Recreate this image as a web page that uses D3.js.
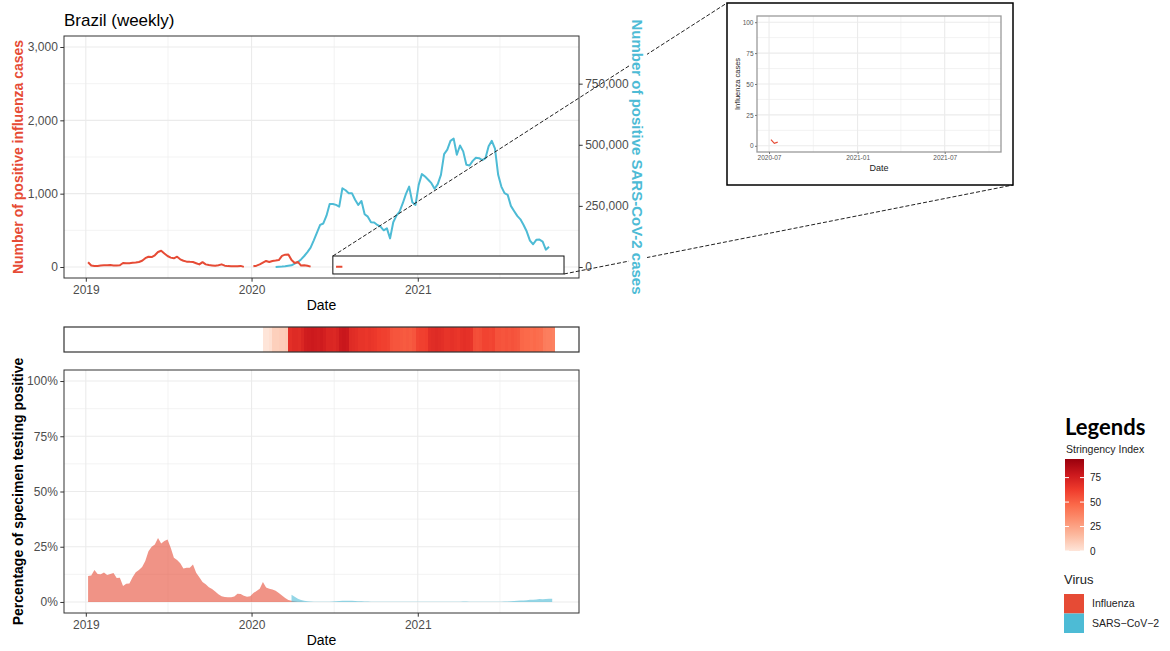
<!DOCTYPE html>
<html>
<head>
<meta charset="utf-8">
<script src="https://cdn.jsdelivr.net/npm/d3@7"></script>
<style>
  body { margin: 0; background: #fff; }
  svg text { font-family: "Liberation Sans", Arial, sans-serif; }
</style>
</head>
<body>
<svg id="chart" width="1170" height="651"></svg>
<script>
// ---- weekly surveillance data, Brazil ----
const fluStart = "2019-01-06";
const fluCases = [
  64, 20, 14, 14, 20, 23, 25, 27, 22, 20,
  23, 55, 52, 52, 57, 62, 68, 85, 120, 140,
  135, 160, 205, 222, 185, 150, 128, 118, 140, 105,
  85, 73, 70, 68, 52, 35, 66, 36, 26, 22,
  18, 25, 36, 18, 12, 9, 9, 9, 15, 2,
  null, null,
  9, 18, 35, 59, 82, 68, 82, 88, 95, 152,
  168, 172, 95, 55, 70, 20, 25, 18, 5,
  null, null, null, null, null, null, null,
  5, 2, 3
];

const sarsStart = "2020-02-23";
const sarsCases = [
  500, 1500, 2000, 3000, 5000, 7000, 14000, 20000, 31000, 45000,
  61000, 79000, 109000, 141000, 172000, 178000, 210000, 258000, 258000, 254000,
  247000, 322000, 314000, 302000, 302000, 275000, 254000, 270000, 216000, 206000,
  183000, 182000, 172000, 165000, 150000, 158000, 117000, 183000, 210000, 227000,
  261000, 299000, 329000, 265000, 254000, 336000, 380000, 370000, 357000, 343000,
  320000, 339000, 377000, 462000, 480000, 516000, 525000, 459000, 497000, 473000,
  418000, 415000, 434000, 447000, 445000, 437000, 445000, 494000, 516000, 484000,
  377000, 329000, 302000, 295000, 250000, 229000, 209000, 195000, 172000, 145000,
  108000, 93000, 111000, 112000, 104000, 71000, 83000
];

const fluPctStart = "2019-01-06";
const fluPct = [
  11.7, 12.0, 14.5, 12.6, 12.5, 13.3, 12.2, 12.7, 13.1, 10.9,
  11.0, 7.2, 8.2, 8.3, 11.2, 13.5, 14.5, 15.8, 18.5, 23.0,
  25.0, 26.0, 29.0, 26.5, 27.6, 28.3, 24.5, 20.0, 19.0, 17.5,
  15.2, 15.5, 15.5, 17.0, 13.2, 11.2, 9.0, 8.0, 6.7, 5.9,
  4.7, 3.5, 2.6, 2.2, 2.1, 2.1, 2.5, 3.7, 3.6, 2.8,
  2.3, 2.6, 4.0, 5.0, 6.0, 9.0, 6.5, 6.0, 5.6, 5.1,
  4.0, 2.9, 1.8, 0.9, 0.6, 0.3, 0.1, 0.05, 0
];

const sarsPctStart = "2020-03-29";
const sarsPct = [
  3.3, 2.4, 1.5, 0.9, 0.5, 0.3, 0.15, 0.1, 0.05, 0.05,
  0.05, 0.1, 0.1, 0.2, 0.3, 0.4, 0.5, 0.6, 0.6, 0.5,
  0.4, 0.35, 0.3, 0.2, 0.15, 0.1, 0.05, 0.05, 0.05, 0.05,
  0.05, 0.05, 0.05, 0.05, 0.05, 0.05, 0.05, 0.05, 0.05, 0.05,
  0.05, 0.05, 0.05, 0.05, 0.05, 0.05, 0.05, 0.05, 0.05, 0.05,
  0.05, 0.05, 0.05, 0.1, 0.15, 0.15, 0.1, 0.05, 0.05, 0.05,
  0.05, 0.05, 0.05, 0.05, 0.05, 0.05, 0.1, 0.15, 0.2, 0.3,
  0.4, 0.5, 0.7, 0.7, 0.8, 1.0, 1.0, 1.1, 1.3, 1.2,
  1.3, 1.4, 1.5
];

const stringencyStart = "2020-01-26";
const stringency = [
  0, 0, 2, 8, 8, 9, 9, 10,
  68, 70, 70, 69, 72,
  76, 77, 78, 77, 76, 77, 75,
  72, 72, 71, 73,
  78, 79, 78,
  70, 69, 68,
  66, 66, 65, 66, 65, 64,
  62, 61, 61, 60,
  55, 54, 54, 53,
  52, 53, 52, 54,
  60, 61, 61, 62,
  68, 69, 70, 69, 68,
  66, 66, 67, 66, 65,
  67, 68, 67, 66,
  57, 56, 57,
  60, 60, 59, 60,
  55, 55, 54, 55, 54, 55, 54, 53,
  48, 47, 47, 46, 47, 46, 45,
  40, 39, 39, 38
];
const stringencyLimits = [0, 94];
const stringencyTicks = [0, 25, 50, 75];

// ---- axis breaks and labels ----
const dateRange = ["2018-11-14", "2021-12-22"];
const yearTicks = ["2019-01-01", "2020-01-01", "2021-01-01"];
const yearLabels = ["2019", "2020", "2021"];
const halfYearTicks = ["2019-07-01", "2020-07-01", "2021-07-01"];
const fluTicks = [0, 1000, 2000, 3000];
const fluMinor = [500, 1500, 2500];
const fluRange = [-150, 3150];
const sarsPerFlu = 300;           // secondary axis ratio
const sarsTicks = [0, 250000, 500000, 750000];
const pctTicks = [0, 25, 50, 75, 100];
const pctMinor = [12.5, 37.5, 62.5, 87.5];
const pctRange = [-5, 105];

// zoomed window (inset)
const zoomWindowDates = ["2020-06-28", "2021-11-19"];
const zoomWindowCases = [-95, 150];
const insetDateRange = ["2020-06-06", "2021-10-26"];
const insetTicks = ["2020-07-01", "2021-01-01", "2021-07-01"];
const insetTickLabels = ["2020-07", "2021-01", "2021-07"];
const insetMinorTicks = ["2020-10-01", "2021-04-01", "2021-10-01"];
const insetYTicks = [0, 25, 50, 75, 100];
const insetYMinor = [12.5, 37.5, 62.5, 87.5];
const insetYRange = [-5, 105];

const virusNames = ["Influenza", "SARS\u2212CoV\u22122"];
const virusColors = ["#E64B35", "#4DBBD5"];
const redsPalette = ["#FEE5D9", "#FCBBA1", "#FC9272", "#FB6A4A", "#EF3B2C", "#CB181D", "#99000D"];

// ---- helpers ----
const parse = d3.timeParse("%Y-%m-%d");
const weekly = (start, values) => values.map((v, i) => ({
  date: d3.timeDay.offset(parse(start), 7 * i), value: v
}));

const fluSeries = weekly(fluStart, fluCases);
const sarsSeries = weekly(sarsStart, sarsCases);
const fluPctSeries = weekly(fluPctStart, fluPct);
const sarsPctSeries = weekly(sarsPctStart, sarsPct);
const stringencySeries = weekly(stringencyStart, stringency);

const svg = d3.select("#chart");
const GRID = "#EBEBEB", BORDER = "#333333", TICKTXT = "#4D4D4D";

// layout
const L = 64, R = 579;
const top1 = 36, bot1 = 278;
const heatTop = 327, heatBot = 352;
const top2 = 370, bot2 = 613;

const x = d3.scaleTime().domain(dateRange.map(parse)).range([L, R]);
const yFlu = d3.scaleLinear().domain(fluRange).range([bot1, top1]);
const ySars = d3.scaleLinear().domain(fluRange.map(v => v * sarsPerFlu)).range([bot1, top1]);
const yPct = d3.scaleLinear().domain(pctRange).range([bot2, top2]);

const strDomain = d3.range(redsPalette.length).map(i =>
  stringencyLimits[0] + (stringencyLimits[1] - stringencyLimits[0]) * i / (redsPalette.length - 1));
const strColor = d3.scaleLinear().domain(strDomain).range(redsPalette);

function styleAxis(g, size) {
  g.select(".domain").remove();
  g.selectAll(".tick line").attr("stroke", BORDER).attr("stroke-width", 1);
  g.selectAll(".tick text").attr("fill", TICKTXT).style("font-size", (size || 12) + "px");
}

function grid(g, xs, xMajor, xMinor, ys, yMajor, yMinor, x0, x1, y0, y1) {
  const gg = g.append("g");
  const vline = (vals, w) => gg.selectAll(null).data(vals).enter().append("line")
    .attr("x1", d => xs(d)).attr("x2", d => xs(d)).attr("y1", y0).attr("y2", y1)
    .attr("stroke", GRID).attr("stroke-width", w);
  const hline = (vals, w) => gg.selectAll(null).data(vals).enter().append("line")
    .attr("y1", d => ys(d)).attr("y2", d => ys(d)).attr("x1", x0).attr("x2", x1)
    .attr("stroke", GRID).attr("stroke-width", w);
  vline(xMinor, 0.6); hline(yMinor, 0.6);
  vline(xMajor, 1.1); hline(yMajor, 1.1);
}

// clip paths
const defs = svg.append("defs");
defs.append("clipPath").attr("id", "clipTop").append("rect")
  .attr("x", L).attr("y", top1).attr("width", R - L).attr("height", bot1 - top1);
defs.append("clipPath").attr("id", "clipBot").append("rect")
  .attr("x", L).attr("y", top2).attr("width", R - L).attr("height", bot2 - top2);

// ================= top panel: case counts =================
const p1 = svg.append("g");
grid(p1, x, yearTicks.map(parse), halfYearTicks.map(parse), yFlu, fluTicks, fluMinor, L, R, top1, bot1);

// zoom window marker
p1.append("rect")
  .attr("x", x(parse(zoomWindowDates[0])))
  .attr("y", yFlu(zoomWindowCases[1]))
  .attr("width", x(parse(zoomWindowDates[1])) - x(parse(zoomWindowDates[0])))
  .attr("height", yFlu(zoomWindowCases[0]) - yFlu(zoomWindowCases[1]))
  .attr("fill", "#fff").attr("stroke", "#111").attr("stroke-width", 1);

const lines = p1.append("g").attr("clip-path", "url(#clipTop)");
lines.append("path").datum(sarsSeries)
  .attr("d", d3.line().x(d => x(d.date)).y(d => ySars(d.value)))
  .attr("fill", "none").attr("stroke", virusColors[1]).attr("stroke-width", 2)
  .attr("stroke-linejoin", "round");
lines.append("path").datum(fluSeries)
  .attr("d", d3.line().defined(d => d.value !== null).x(d => x(d.date)).y(d => yFlu(d.value)))
  .attr("fill", "none").attr("stroke", virusColors[0]).attr("stroke-width", 2)
  .attr("stroke-linejoin", "round");

p1.append("rect").attr("x", L).attr("y", top1).attr("width", R - L).attr("height", bot1 - top1)
  .attr("fill", "none").attr("stroke", BORDER).attr("stroke-width", 1);

// axes
const axL1 = p1.append("g").attr("transform", `translate(${L},0)`)
  .call(d3.axisLeft(yFlu).tickValues(fluTicks).tickFormat(d3.format(",")).tickSize(3.7).tickPadding(2.5));
styleAxis(axL1);
const axR1 = p1.append("g").attr("transform", `translate(${R},0)`)
  .call(d3.axisRight(ySars).tickValues(sarsTicks).tickFormat(d3.format(",")).tickSize(3.7).tickPadding(2.5));
styleAxis(axR1);
const axB1 = p1.append("g").attr("transform", `translate(0,${bot1})`)
  .call(d3.axisBottom(x).tickValues(yearTicks.map(parse)).tickFormat((d, i) => yearLabels[i]).tickSize(3.7).tickPadding(3.5));
styleAxis(axB1);

svg.append("text").attr("x", 64).attr("y", 26).attr("font-size", 17).attr("fill", "#000")
  .text("Brazil (weekly)");
svg.append("text").attr("x", (L + R) / 2).attr("y", 310).attr("text-anchor", "middle")
  .attr("font-size", 14).attr("fill", "#000").text("Date");
svg.append("text").attr("transform", `translate(22.5,${(top1 + bot1) / 2}) rotate(-90)`)
  .attr("text-anchor", "middle").attr("font-size", 14).attr("font-weight", "bold")
  .attr("fill", virusColors[0]).text("Number of positive influenza cases");

// ================= connectors to inset =================
const inset = { x0: 727, y0: 3, x1: 1013, y1: 185 };
const conn = svg.append("g").attr("stroke", "#222").attr("stroke-width", 1)
  .attr("stroke-dasharray", "4,2").attr("fill", "none");
conn.append("line")
  .attr("x1", x(parse(zoomWindowDates[0]))).attr("y1", yFlu(zoomWindowCases[1]))
  .attr("x2", inset.x0).attr("y2", inset.y0);
conn.append("line")
  .attr("x1", x(parse(zoomWindowDates[1]))).attr("y1", yFlu(zoomWindowCases[0]))
  .attr("x2", inset.x1).attr("y2", inset.y1);

// right axis title (drawn over connectors)
const rtX = 631.5;
svg.append("rect").attr("x", rtX - 2.5).attr("y", 14).attr("width", 18).attr("height", 286).attr("fill", "#fff");
svg.append("text").attr("transform", `translate(${rtX},${(top1 + bot1) / 2}) rotate(90)`)
  .attr("text-anchor", "middle").attr("font-size", 15).attr("font-weight", "bold")
  .attr("fill", virusColors[1]).text("Number of positive SARS-CoV-2 cases");

// ================= inset: zoomed influenza =================
const ig = svg.append("g");
ig.append("rect").attr("x", inset.x0).attr("y", inset.y0)
  .attr("width", inset.x1 - inset.x0).attr("height", inset.y1 - inset.y0)
  .attr("fill", "#fff").attr("stroke", "#000").attr("stroke-width", 1.5);
const iL = 757, iR = 1001, iT = 16, iB = 152;
const xi = d3.scaleTime().domain(insetDateRange.map(parse)).range([iL, iR]);
const yi = d3.scaleLinear().domain(insetYRange).range([iB, iT]);
grid(ig, xi, insetTicks.map(parse), insetMinorTicks.map(parse), yi, insetYTicks, insetYMinor, iL, iR, iT, iB);
const insetFlu = fluSeries.filter(d => d.date >= parse(zoomWindowDates[0]) && d.value !== null);
ig.append("path").datum(insetFlu)
  .attr("d", d3.line().x(d => xi(d.date)).y(d => yi(d.value)))
  .attr("fill", "none").attr("stroke", virusColors[0]).attr("stroke-width", 1.2);
ig.append("rect").attr("x", iL).attr("y", iT).attr("width", iR - iL).attr("height", iB - iT)
  .attr("fill", "none").attr("stroke", "#9a9a9a").attr("stroke-width", 1.3);
const axIL = ig.append("g").attr("transform", `translate(${iL},0)`)
  .call(d3.axisLeft(yi).tickValues(insetYTicks).tickSize(2).tickPadding(1.5));
styleAxis(axIL, 6.5);
const axIB = ig.append("g").attr("transform", `translate(0,${iB})`)
  .call(d3.axisBottom(xi).tickValues(insetTicks.map(parse)).tickFormat((d, i) => insetTickLabels[i]).tickSize(2).tickPadding(1.5));
styleAxis(axIB, 6.5);
ig.selectAll(".tick line").attr("stroke", "#777");
ig.selectAll(".tick text").attr("fill", "#555");
ig.append("text").attr("transform", `translate(740,${(iT + iB) / 2}) rotate(-90)`)
  .attr("text-anchor", "middle").attr("font-size", 7.5).attr("fill", "#222").text("Influenza cases");
ig.append("text").attr("x", (iL + iR) / 2).attr("y", 171).attr("text-anchor", "middle")
  .attr("font-size", 9).attr("fill", "#222").text("Date");

// ================= stringency strip =================
const hs = svg.append("g").attr("shape-rendering", "crispEdges");
hs.selectAll("rect.tile").data(stringencySeries).enter().append("rect")
  .attr("class", "tile")
  .attr("x", d => x(d.date))
  .attr("width", (d, i) => x(d3.timeDay.offset(d.date, 7)) - x(d.date) + (i < stringencySeries.length - 1 ? 1.5 : 0))
  .attr("y", heatTop).attr("height", heatBot - heatTop)
  .attr("fill", d => strColor(d.value));
svg.append("rect").attr("x", L).attr("y", heatTop).attr("width", R - L).attr("height", heatBot - heatTop)
  .attr("fill", "none").attr("stroke", BORDER).attr("stroke-width", 1.2);

// ================= bottom panel: percent positive =================
const p2 = svg.append("g");
grid(p2, x, yearTicks.map(parse), halfYearTicks.map(parse), yPct, pctTicks, pctMinor, L, R, top2, bot2);
const areas = p2.append("g").attr("clip-path", "url(#clipBot)");
const area = d3.area().x(d => x(d.date)).y0(yPct(0)).y1(d => yPct(d.value));
areas.append("path").datum(fluPctSeries).attr("d", area)
  .attr("fill", virusColors[0]).attr("fill-opacity", 0.6);
areas.append("path").datum(sarsPctSeries).attr("d", area)
  .attr("fill", virusColors[1]).attr("fill-opacity", 0.6);
p2.append("rect").attr("x", L).attr("y", top2).attr("width", R - L).attr("height", bot2 - top2)
  .attr("fill", "none").attr("stroke", BORDER).attr("stroke-width", 1);
const axL2 = p2.append("g").attr("transform", `translate(${L},0)`)
  .call(d3.axisLeft(yPct).tickValues(pctTicks).tickFormat(d => d + "%").tickSize(3.7).tickPadding(2.5));
styleAxis(axL2);
const axB2 = p2.append("g").attr("transform", `translate(0,${bot2})`)
  .call(d3.axisBottom(x).tickValues(yearTicks.map(parse)).tickFormat((d, i) => yearLabels[i]).tickSize(3.7).tickPadding(3.5));
styleAxis(axB2);
svg.append("text").attr("x", (L + R) / 2).attr("y", 645).attr("text-anchor", "middle")
  .attr("font-size", 14).attr("fill", "#000").text("Date");
svg.append("text").attr("transform", `translate(22.5,${(top2 + bot2) / 2}) rotate(-90)`)
  .attr("text-anchor", "middle").attr("font-size", 14).attr("font-weight", "bold")
  .attr("fill", "#000").text("Percentage of specimen testing positive");

// ================= legends =================
const lg = svg.append("g");
lg.append("text").attr("x", 1065).attr("y", 435).attr("font-size", 22).attr("font-weight", "bold")
  .style("font-family", "Lato, 'Open Sans', sans-serif").attr("fill", "#000").text("Legends");
lg.append("text").attr("x", 1066).attr("y", 453).attr("font-size", 10.5).attr("fill", "#222")
  .text("Stringency Index");

const barX = 1065, barW = 19;
const yLeg = d3.scaleLinear().domain(stringencyLimits).range([551, 459]);
const grad = defs.append("linearGradient").attr("id", "strGrad")
  .attr("x1", 0).attr("y1", 1).attr("x2", 0).attr("y2", 0);
redsPalette.forEach((c, i) => grad.append("stop")
  .attr("offset", i / (redsPalette.length - 1)).attr("stop-color", c));
lg.append("rect").attr("x", barX).attr("y", yLeg(stringencyLimits[1]))
  .attr("width", barW).attr("height", yLeg(stringencyLimits[0]) - yLeg(stringencyLimits[1]))
  .attr("fill", "url(#strGrad)");
stringencyTicks.forEach(t => {
  lg.append("line").attr("x1", barX).attr("x2", barX + 4).attr("y1", yLeg(t)).attr("y2", yLeg(t))
    .attr("stroke", "#fff").attr("stroke-width", 1);
  lg.append("line").attr("x1", barX + barW - 4).attr("x2", barX + barW).attr("y1", yLeg(t)).attr("y2", yLeg(t))
    .attr("stroke", "#fff").attr("stroke-width", 1);
  lg.append("text").attr("x", barX + barW + 6).attr("y", yLeg(t) + 3.5)
    .attr("font-size", 10).attr("fill", "#222").text(t);
});

lg.append("text").attr("x", 1064).attr("y", 584).attr("font-size", 13).attr("fill", "#222").text("Virus");
virusNames.forEach((n, i) => {
  lg.append("rect").attr("x", 1064).attr("y", 594 + i * 19.5).attr("width", 20).attr("height", 19.5)
    .attr("fill", virusColors[i]);
  lg.append("text").attr("x", 1092).attr("y", 607 + i * 19.5).attr("font-size", 10.5)
    .attr("fill", "#222").text(n);
});
</script>
</body>
</html>
